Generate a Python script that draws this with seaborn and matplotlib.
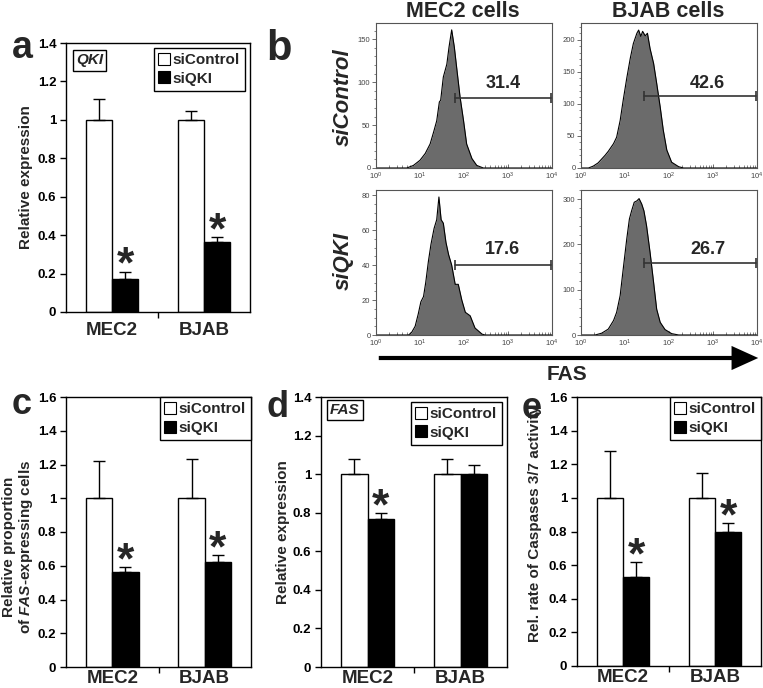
import numpy as np
import pandas as pd
import matplotlib
matplotlib.use('Agg')
import matplotlib.pyplot as plt
import seaborn as sns
from matplotlib.lines import Line2D
from matplotlib.patches import FancyArrowPatch
from matplotlib.ticker import MultipleLocator, LogLocator, NullFormatter

sns.set_theme(style='white')
plt.rcParams['font.family'] = ['Liberation Sans', 'DejaVu Sans']
plt.rcParams['mathtext.fontset'] = 'custom'
plt.rcParams['mathtext.it'] = 'Liberation Sans:italic:bold'
plt.rcParams['mathtext.rm'] = 'Liberation Sans'
plt.rcParams['mathtext.bf'] = 'Liberation Sans:bold'

# ---------------- data ----------------
cells = ['MEC2', 'BJAB']
conditions = ['siControl', 'siQKI']

# panel a: QKI relative expression
a_ctrl = [1.0, 1.0]
a_ctrl_err = [0.11, 0.047]
a_si = [0.17, 0.365]
a_si_err = [0.04, 0.025]
a_stars = [True, True]

# panel c: relative proportion of FAS-expressing cells
c_ctrl = [1.0, 1.0]
c_ctrl_err = [0.22, 0.23]
c_si = [0.565, 0.625]
c_si_err = [0.025, 0.04]
c_stars = [True, True]

# panel d: FAS relative expression
d_ctrl = [1.0, 1.0]
d_ctrl_err = [0.08, 0.08]
d_si = [0.765, 1.0]
d_si_err = [0.035, 0.05]
d_stars = [True, False]

# panel e: caspase 3/7 activity
e_ctrl = [1.0, 1.0]
e_ctrl_err = [0.28, 0.15]
e_si = [0.53, 0.80]
e_si_err = [0.09, 0.05]
e_stars = [True, True]

# panel b: flow cytometry histograms (log10 FAS, counts)
mec2_ctrl_logx = [0.0, 0.70, 0.85, 1.00, 1.12, 1.23, 1.31, 1.38, 1.44, 1.47, 1.53, 1.61, 1.66, 1.72,
                  1.78, 1.84, 1.91, 1.99, 2.06, 2.18, 2.29, 2.44, 4.0]
mec2_ctrl_cnt = [0, 0, 3, 9, 17, 28, 42, 55, 77, 79, 106, 121, 141, 161,
                 141, 114, 83, 55, 28, 11, 3, 0, 0]
bjab_ctrl_logx = [0.0, 0.17, 0.28, 0.39, 0.55, 0.62, 0.74, 0.81, 0.89, 0.96, 1.04, 1.12, 1.19, 1.27,
                  1.31, 1.36, 1.40, 1.46, 1.51, 1.57, 1.65, 1.72, 1.80, 1.87, 1.95, 2.06, 2.22, 2.33, 4.0]
bjab_ctrl_cnt = [0, 0, 3, 8, 20, 26, 38, 48, 74, 106, 140, 171, 194, 210,
                 215, 205, 213, 206, 210, 186, 163, 132, 95, 59, 28, 9, 2, 0, 0]
mec2_si_logx = [0.0, 0.74, 0.81, 0.89, 0.96, 1.02, 1.08, 1.13, 1.19, 1.25, 1.32, 1.38, 1.43, 1.48,
                1.53, 1.59, 1.65, 1.72, 1.80, 1.87, 1.95, 2.03, 2.14, 2.25, 2.41, 2.48, 4.0]
mec2_si_cnt = [0, 0, 1.5, 5, 12, 19, 22, 30, 42, 52, 61, 66, 79, 66,
               64, 53, 46, 40, 29, 29, 20, 13, 11, 4, 0.5, 0, 0]
bjab_si_logx = [0.0, 0.32, 0.47, 0.62, 0.74, 0.81, 0.89, 0.96, 1.04, 1.10, 1.15, 1.21, 1.27, 1.32,
                1.38, 1.43, 1.49, 1.57, 1.65, 1.72, 1.80, 1.91, 2.06, 2.22, 4.0]
bjab_si_cnt = [0, 0, 4, 13, 32, 50, 87, 146, 212, 256, 274, 293, 296, 301,
               289, 274, 241, 182, 116, 57, 28, 12, 3, 0, 0]

gate_labels = ['31.4', '42.6', '17.6', '26.7']
gate_start_log = [1.80, 1.44, 1.80, 1.44]
gate_level = [82, 113, 40, 159]
gate_text_y = [99, 131, 49, 188]

# ---------------- figure ----------------
FW, FH = 763, 688
fig = plt.figure(figsize=(FW / 100, FH / 100), dpi=100)


def add_ax(l, t, r, b):
    return fig.add_axes([l / FW, 1 - b / FH, (r - l) / FW, (b - t) / FH])


def bar_panel(ax, ctrl, ctrl_err, si, si_err, stars, ymax, ylabel, ylab_xy,
              gene=None, gene_xy=None, leg_pad=0.3, xpad=6):
    df = pd.DataFrame({
        'cell': cells * 2,
        'condition': [conditions[0]] * len(cells) + [conditions[1]] * len(cells),
        'value': list(ctrl) + list(si),
    })
    sns.barplot(data=df, x='cell', y='value', hue='condition', order=cells,
                hue_order=conditions, palette=['white', 'black'], saturation=1,
                edgecolor='black', linewidth=1.0, width=0.57, gap=0,
                errorbar=None, legend=False, ax=ax)
    for cont, err in zip(ax.containers, [ctrl_err, si_err]):
        xs = [p.get_x() + p.get_width() / 2 for p in cont]
        ys = [p.get_height() for p in cont]
        ax.errorbar(xs, ys, yerr=[np.zeros(len(err)), err], fmt='none',
                    ecolor='black', elinewidth=1.0, capsize=4, capthick=1.0, zorder=3)
    for p, v, e, s in zip(ax.containers[1], si, si_err, stars):
        if s:
            ax.annotate('*', xy=(p.get_x() + p.get_width() / 2, v + e),
                        xytext=(0, -4.5), textcoords='offset points',
                        ha='center', va='baseline', fontsize=32, fontweight='bold')
    ax.set_xlim(-0.5, 1.5)
    ax.set_ylim(0, ymax)
    yt = np.round(np.arange(0, ymax + 0.001, 0.2), 1)
    ax.set_yticks(yt)
    ax.set_yticklabels([f'{v:g}' for v in yt], fontsize=9.5, fontweight='bold')
    ax.set_xticks([0, 1])
    ax.set_xticklabels(cells, fontsize=13.5, fontweight='bold')
    ax.set_xticks([0.5], minor=True)
    ax.tick_params(axis='x', which='major', length=0, pad=xpad, bottom=False)
    ax.tick_params(axis='x', which='minor', direction='out', length=4, width=1,
                   bottom=True, color='black')
    ax.tick_params(axis='y', direction='out', length=4, width=1, left=True,
                   pad=3, color='black', labelcolor='black')
    for sp in ax.spines.values():
        sp.set_visible(True)
        sp.set_color('black')
        sp.set_linewidth(1.0)
    ax.set_xlabel('')
    ax.set_ylabel(ylabel, fontsize=11, fontweight='bold', linespacing=1.1)
    ax.yaxis.set_label_coords(*ylab_xy)
    handles = [Line2D([], [], marker='s', ls='none', mfc='white', mec='black', mew=0.8, ms=8),
               Line2D([], [], marker='s', ls='none', mfc='black', mec='black', mew=0.8, ms=8)]
    leg = ax.legend(handles, conditions, loc='upper right', frameon=True, fancybox=False,
                    framealpha=1, edgecolor='black', prop={'weight': 'bold', 'size': 11},
                    handlelength=0.6, handletextpad=0.25, labelspacing=0.3,
                    borderpad=0.35, borderaxespad=leg_pad)
    leg.get_frame().set_linewidth(1.0)
    if gene:
        ax.text(gene_xy[0], gene_xy[1], gene, transform=ax.transAxes, ha='center', va='center',
                fontsize=11, fontweight='bold', style='italic',
                bbox=dict(boxstyle='square,pad=0.2', fc='white', ec='black', lw=1.0))


def hist_panel(ax, logx, cnt, ymax, yticks, yminor, idx):
    x = 10 ** np.array(logx)
    ax.fill_between(x, cnt, color='#6b6b6b', lw=0, zorder=1)
    sns.lineplot(x=x, y=cnt, ax=ax, color='black', lw=0.8, sort=False, estimator=None, zorder=2)
    ax.set_xscale('log')
    ax.set_xlim(1, 1e4)
    ax.set_ylim(0, ymax)
    ax.set_yticks(yticks)
    ax.yaxis.set_minor_locator(MultipleLocator(yminor))
    ax.xaxis.set_major_locator(LogLocator(base=10, numticks=10))
    ax.xaxis.set_minor_locator(LogLocator(base=10, subs=np.arange(2, 10), numticks=10))
    ax.xaxis.set_minor_formatter(NullFormatter())
    ax.tick_params(axis='y', which='major', direction='out', left=True, length=3, width=0.6,
                   color='#555555', labelsize=5.5, labelcolor='#444444', pad=1)
    ax.tick_params(axis='y', which='minor', direction='out', left=True, length=1.5, width=0.5,
                   color='#555555')
    ax.tick_params(axis='x', which='major', direction='in', bottom=True, length=3, width=0.6,
                   color='#555555', labelsize=5.5, labelcolor='#444444', pad=2)
    ax.tick_params(axis='x', which='minor', direction='in', bottom=True, length=2, width=0.5,
                   color='#555555')
    for sp in ax.spines.values():
        sp.set_visible(True)
        sp.set_color('#555555')
        sp.set_linewidth(0.8)
    ax.set_xlabel('')
    ax.set_ylabel('')
    ax.plot([10 ** gate_start_log[idx], 10 ** 3.97], [gate_level[idx]] * 2, color='#333333',
            lw=1.2, marker='|', ms=7, mew=1.2, zorder=3)
    ax.text(10 ** 2.88, gate_text_y[idx], gate_labels[idx], ha='center', va='center',
            fontsize=13, fontweight='bold')


# panel a
ax_a = add_ax(66, 43, 250, 312)
bar_panel(ax_a, a_ctrl, a_ctrl_err, a_si, a_si_err, a_stars, 1.4, 'Relative expression',
          (-0.18, 0.5), gene='QKI', gene_xy=(0.128, 0.935), leg_pad=0.3, xpad=7)

# panel c
ax_c = add_ax(66, 397, 251, 667)
bar_panel(ax_c, c_ctrl, c_ctrl_err, c_si, c_si_err, c_stars, 1.6,
          'Relative proportion\nof $\\mathit{FAS}$-expressing cells',
          (-0.165, 0.445), leg_pad=0.0, xpad=2)

# panel d
ax_d = add_ax(321, 397, 507, 667)
bar_panel(ax_d, d_ctrl, d_ctrl_err, d_si, d_si_err, d_stars, 1.4, 'Relative expression',
          (-0.167, 0.5), gene='FAS', gene_xy=(0.129, 0.952), leg_pad=0.3, xpad=2)

# panel e
ax_e = add_ax(577, 397, 761, 666)
bar_panel(ax_e, e_ctrl, e_ctrl_err, e_si, e_si_err, e_stars, 1.6,
          'Rel. rate of Caspases 3/7 activity', (-0.19, 0.528), leg_pad=0.0, xpad=2)

# panel b histograms
h1 = add_ax(376, 23, 552, 168)
hist_panel(h1, mec2_ctrl_logx, mec2_ctrl_cnt, 169, [0, 50, 100, 150], 10, 0)
h2 = add_ax(581, 23, 757, 168)
hist_panel(h2, bjab_ctrl_logx, bjab_ctrl_cnt, 226, [0, 50, 100, 150, 200], 10, 1)
h3 = add_ax(376, 190, 552, 335)
hist_panel(h3, mec2_si_logx, mec2_si_cnt, 83, [0, 20, 40, 60, 80], 5, 2)
h4 = add_ax(581, 190, 757, 335)
hist_panel(h4, bjab_si_logx, bjab_si_cnt, 320, [0, 100, 200, 300], 20, 3)

# texts
fig.text(463 / FW, 1 - 17 / FH, 'MEC2 cells', ha='center', va='baseline', fontsize=15.5, fontweight='bold')
fig.text(668 / FW, 1 - 17 / FH, 'BJAB cells', ha='center', va='baseline', fontsize=15.5, fontweight='bold')
fig.text(343 / FW, 1 - 97 / FH, 'siControl', rotation=90, ha='center', va='center',
         fontsize=16, fontweight='bold', style='italic')
fig.text(343 / FW, 1 - 261 / FH, 'siQKI', rotation=90, ha='center', va='center',
         fontsize=16, fontweight='bold', style='italic')
fig.text(567 / FW, 1 - 375 / FH, 'FAS', ha='center', va='center', fontsize=15, fontweight='bold')
arrow = FancyArrowPatch((376 / FW, 1 - 358 / FH), (761 / FW, 1 - 358 / FH), transform=fig.transFigure,
                        arrowstyle='simple,head_width=1.45,head_length=1.6,tail_width=0.25',
                        mutation_scale=12, color='black', lw=0)
fig.add_artist(arrow)

for lab, x, y, fs in [('a', 12, 58, 27), ('b', 266, 60, 30), ('c', 12, 414, 26),
                      ('d', 266, 417, 26), ('e', 522, 418, 26)]:
    fig.text(x / FW, 1 - y / FH, lab, ha='left', va='baseline', fontsize=fs, fontweight='bold')

fig.savefig('out.png', dpi=100)
